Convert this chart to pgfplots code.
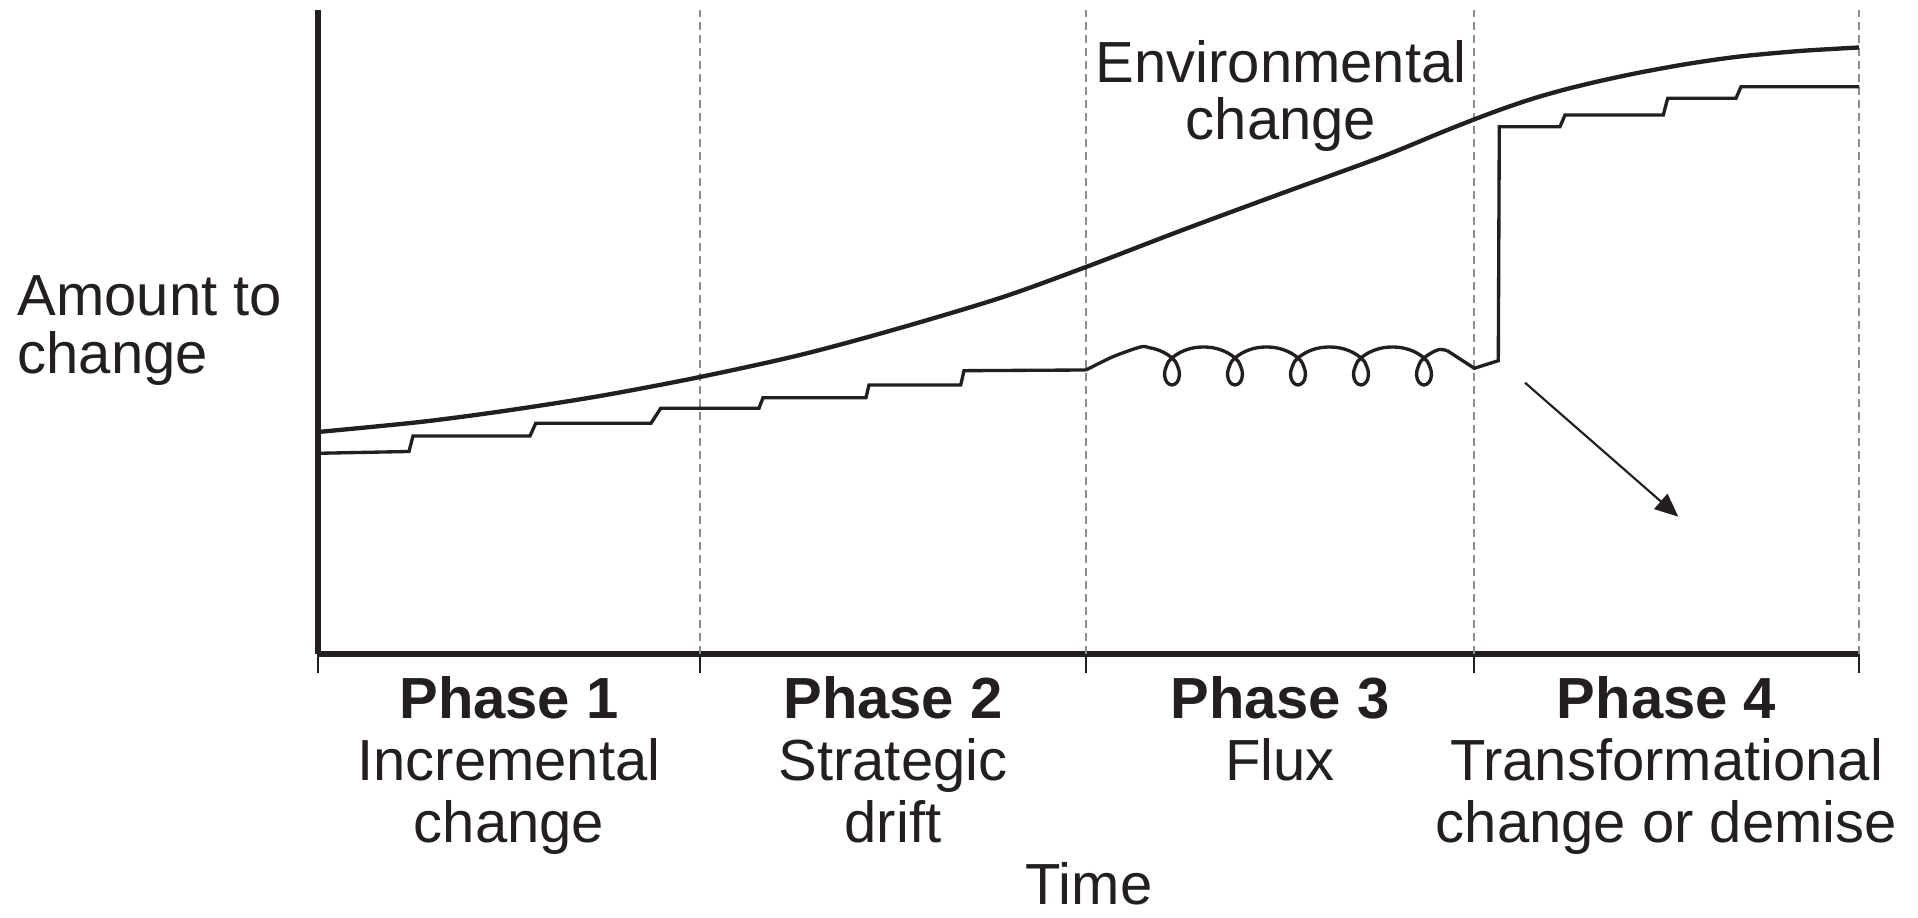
\documentclass[border=0pt]{standalone}
\usepackage{fontspec}
\setmainfont{Liberation Sans}
\usepackage{pgfplots}
\pgfplotsset{compat=1.18}
\usetikzlibrary{arrows.meta}
\definecolor{ink}{HTML}{231F20}
\definecolor{dgray}{HTML}{8C8C8C}
\newcommand\lab{\fontsize{17.4pt}{20pt}\selectfont}
\begin{document}
\begin{tikzpicture}
\begin{axis}[
  x=0.3pt, y=0.3pt,
  xmin=318, xmax=1859, ymin=0, ymax=644,
  axis lines=left,
  axis line style={-, line width=1.6pt, ink},
  xtick={318,700,1086,1474,1859}, xticklabels={},
  ytick=\empty,
  tick align=outside,
  major tick length=5.6pt,
  tick style={ink, line width=0.5pt},
  clip=false,
]
% invisible frame fixing the picture size
\path (axis cs:0,-264) rectangle (axis cs:1918,654);

% phase separators
\addplot[dgray, line width=0.45pt, dash pattern=on 2.4pt off 1.5pt] coordinates {(700,0) (700,644)};
\addplot[dgray, line width=0.45pt, dash pattern=on 2.4pt off 1.5pt] coordinates {(1086,0) (1086,644)};
\addplot[dgray, line width=0.45pt, dash pattern=on 2.4pt off 1.5pt] coordinates {(1474,0) (1474,644)};
\addplot[dgray, line width=0.45pt, dash pattern=on 2.4pt off 1.5pt] coordinates {(1859,0) (1859,644)};

% environmental change
\addplot[ink, line width=1.3pt, smooth] coordinates {
 (318,222) (420,232) (504,243) (600,258) (700,277) (800,299) (893,324)
 (1000,356) (1086,387) (1180,423) (1280,460) (1380,496.5) (1440,521)
 (1474,534.5) (1505,546) (1535,556) (1565,564.5) (1600,573) (1640,581.5)
 (1690,590.5) (1740,597.5) (1800,603) (1859,606.5)};

% incremental steps (phases 1-2)
\addplot[ink, line width=1.0pt] coordinates {
 (318,200.7) (409,202.5) (413,218) (530,218) (535.7,230.7) (651,230.7)
 (660.7,245.7) (759,245.7) (763,256.3) (866,256.3) (869,269) (960.7,269)
 (964,283.3) (1086,284)};

% flux loops (phase 3)
\addplot[ink, line width=1.0pt, smooth] coordinates {
 (1086,284) (1113,297.3)
 (1140.5,307) (1148.9,306.4) (1156.8,304.5) (1164.1,301.4) (1170.2,297.5)
 (1175.1,292.9) (1177.5,288) (1179.1,283.1) (1179.4,278.5) (1178.6,274.6)
 (1176.9,271.6) (1174.6,269.7) (1172,269) (1169.4,269.7) (1167.1,271.6)
 (1165.4,274.6) (1164.6,278.5) (1164.9,283.1) (1166.5,288) (1168.9,292.9)
 (1173.8,297.5) (1179.9,301.4) (1187.2,304.5) (1195.1,306.4) (1203.5,307)
 (1211.9,306.4) (1219.8,304.5) (1227.1,301.4) (1233.2,297.5)
 (1238.1,292.9) (1240.5,288) (1242.1,283.1) (1242.4,278.5) (1241.6,274.6)
 (1239.9,271.6) (1237.6,269.7) (1235,269) (1232.4,269.7) (1230.1,271.6)
 (1228.4,274.6) (1227.6,278.5) (1227.9,283.1) (1229.5,288) (1231.9,292.9)
 (1236.8,297.5) (1242.9,301.4) (1250.2,304.5) (1258.1,306.4) (1266.5,307)
 (1274.9,306.4) (1282.8,304.5) (1290.1,301.4) (1296.2,297.5)
 (1301.1,292.9) (1303.5,288) (1305.1,283.1) (1305.4,278.5) (1304.6,274.6)
 (1302.9,271.6) (1300.6,269.7) (1298,269) (1295.4,269.7) (1293.1,271.6)
 (1291.4,274.6) (1290.6,278.5) (1290.9,283.1) (1292.5,288) (1294.9,292.9)
 (1299.8,297.5) (1305.9,301.4) (1313.2,304.5) (1321.1,306.4) (1329.5,307)
 (1337.9,306.4) (1345.8,304.5) (1353.1,301.4) (1359.2,297.5)
 (1364.1,292.9) (1366.5,288) (1368.1,283.1) (1368.4,278.5) (1367.6,274.6)
 (1365.9,271.6) (1363.6,269.7) (1361,269) (1358.4,269.7) (1356.1,271.6)
 (1354.4,274.6) (1353.6,278.5) (1353.9,283.1) (1355.5,288) (1357.9,292.9)
 (1362.8,297.5) (1368.9,301.4) (1376.2,304.5) (1384.1,306.4) (1392.5,307)
 (1400.9,306.4) (1408.8,304.5) (1416.1,301.4) (1422.2,297.5)
 (1427.1,292.9) (1429.5,288) (1431.1,283.1) (1431.4,278.5) (1430.6,274.6)
 (1428.9,271.6) (1426.6,269.7) (1424,269) (1421.4,269.7) (1419.1,271.6)
 (1417.4,274.6) (1416.6,278.5) (1416.9,283.1) (1418.5,288) (1420.9,292.9)
 (1425.8,297.5) (1431.9,301.4) (1439.2,304.5) (1447,303.5)};

% jump and transformational steps (phase 4)
\addplot[ink, line width=1.0pt] coordinates {
 (1447,303.5) (1474.3,285.7) (1498.3,293.3) (1499.3,527.3) (1560,527.3)
 (1565,539) (1663.3,539) (1667.7,555.7) (1736,555.7) (1741,567.3) (1859,567.3)};

% demise arrow
\addplot[ink, line width=0.65pt, -{Triangle[length=7pt,width=6pt]}] coordinates {(1525,271.3) (1678.3,137.3)};

% labels
\node[anchor=base west, inner sep=0, font=\lab, text=ink] at (axis cs:17,338) {Amount to};
\node[anchor=base west, inner sep=0, font=\lab, text=ink] at (axis cs:17,280) {change};
\node[anchor=base, inner sep=0, font=\lab, text=ink] at (axis cs:1281,571) {Environmental};
\node[anchor=base, inner sep=0, font=\lab, text=ink] at (axis cs:1281,514) {change};

\node[anchor=base, inner sep=0, font=\lab\bfseries, text=ink] at (axis cs:509,-64.5) {Phase 1};
\node[anchor=base, inner sep=0, font=\lab, text=ink] at (axis cs:509,-126) {Incremental};
\node[anchor=base, inner sep=0, font=\lab, text=ink] at (axis cs:509,-188) {change};

\node[anchor=base, inner sep=0, font=\lab\bfseries, text=ink] at (axis cs:893,-64.5) {Phase 2};
\node[anchor=base, inner sep=0, font=\lab, text=ink] at (axis cs:893,-126) {Strategic};
\node[anchor=base, inner sep=0, font=\lab, text=ink] at (axis cs:893,-188) {drift};

\node[anchor=base, inner sep=0, font=\lab\bfseries, text=ink] at (axis cs:1280,-64.5) {Phase 3};
\node[anchor=base, inner sep=0, font=\lab, text=ink] at (axis cs:1280,-126) {Flux};

\node[anchor=base, inner sep=0, font=\lab\bfseries, text=ink] at (axis cs:1666.5,-64.5) {Phase 4};
\node[anchor=base, inner sep=0, font=\lab, text=ink] at (axis cs:1666.5,-126) {Transformational};
\node[anchor=base, inner sep=0, font=\lab, text=ink] at (axis cs:1666.5,-188) {change or demise};

\node[anchor=base, inner sep=0, font=\lab, text=ink] at (axis cs:1089,-250) {Time};
\end{axis}
\end{tikzpicture}
\end{document}
